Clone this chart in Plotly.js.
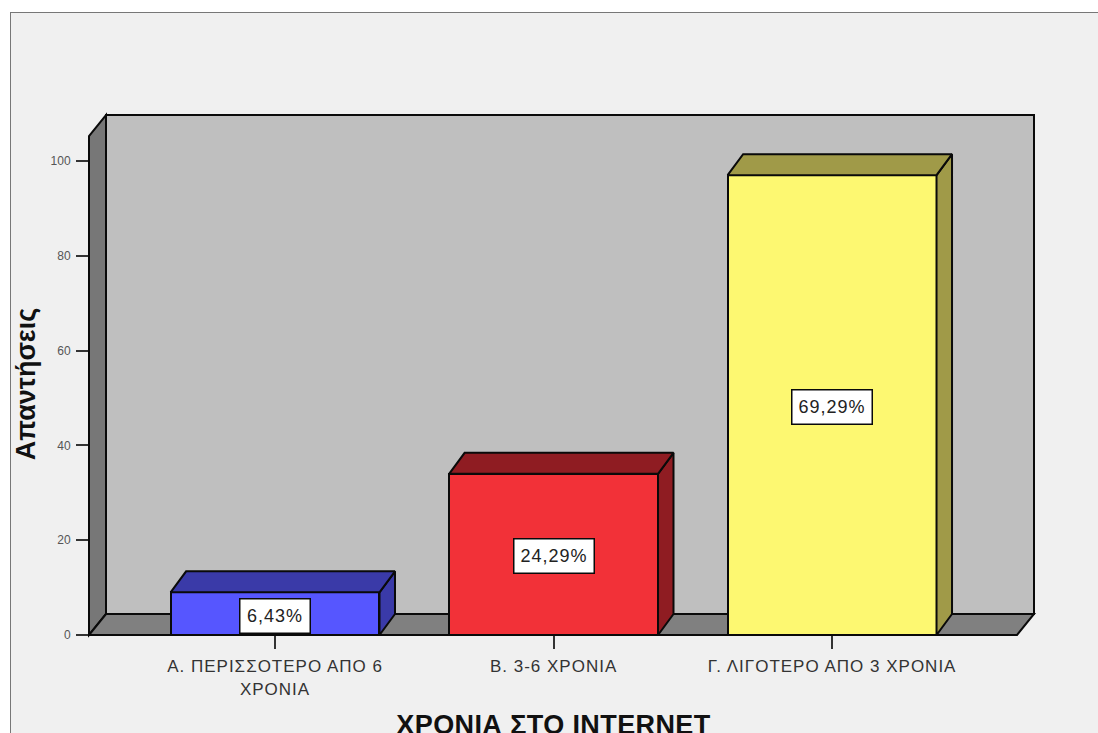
<!DOCTYPE html>
<html>
<head>
<meta charset="utf-8">
<script src="https://cdn.plot.ly/plotly-3.0.1.min.js"></script>
<style>
html,body{margin:0;padding:0;background:#fff;width:1098px;height:733px;overflow:hidden}
#frame{position:absolute;left:10px;top:12px;width:1087px;height:720px;border-left:1px solid #777;border-top:1px solid #777;background:#f0f0f0}
#chart{width:1087px;height:720px}
.xtick text{letter-spacing:1px}
.annotation-text{letter-spacing:1px}
.xtitle{letter-spacing:0.4px}
.ytitle{translate:0 9px}
</style>
</head>
<body>
<div id="frame"><div id="chart"></div></div>
<script>
var categories = ['Α. ΠΕΡΙΣΣΟΤΕΡΟ ΑΠΟ 6<br>ΧΡΟΝΙΑ', 'Β. 3-6 ΧΡΟΝΙΑ', 'Γ. ΛΙΓΟΤΕΡΟ ΑΠΟ 3 ΧΡΟΝΙΑ'];
var responses = [9, 34, 97];
var percentLabels = ['6,43%', '24,29%', '69,29%'];
var frontColors = ['#5656ff', '#f23138', '#fdf871'];
var sideColors = ['#3a3aa8', '#8f1c22', '#a09a48'];
var yTicks = [0, 20, 40, 60, 80, 100];
var xAxisTitle = 'ΧΡΟΝΙΑ ΣΤΟ INTERNET';

var W = 1087, H = 720;
var margin = {l: 78, r: 64, t: 102, b: 98, pad: 0};
var plotW = W - margin.l - margin.r, plotH = H - margin.t - margin.b;
var depthPxX = 17, depthPxY = 21, barDepthPxX = 15.5;
var yMax = 109.7;
var xMin = -0.668, xMax = 2.725;
var barW = 0.75;
var dX = barDepthPxX / plotW * (xMax - xMin);
var dY = depthPxY / plotH * yMax;
var fx = depthPxX / plotW, fy = depthPxY / plotH;
var BLACK = '#0a0a0a';
var FONT = 'Liberation Sans, Arial, sans-serif';

var traces = [{
  type: 'bar',
  x: responses.map(function (_, i) { return i; }),
  y: responses,
  width: barW,
  cliponaxis: false,
  hoverinfo: 'skip',
  marker: {color: frontColors, line: {color: BLACK, width: 2}}
}];

responses.forEach(function (v, i) {
  var l = i - barW / 2, r = i + barW / 2;
  // side face
  traces.push({
    type: 'scatter', mode: 'lines', fill: 'toself', fillcolor: sideColors[i], hoverinfo: 'skip',
    x: [r, r + dX, r + dX, r, r], y: [0, dY, v + dY, v, 0],
    line: {color: BLACK, width: 2}
  });
  // top face
  traces.push({
    type: 'scatter', mode: 'lines', fill: 'toself', fillcolor: sideColors[i], hoverinfo: 'skip',
    x: [l, l + dX, r + dX, r, l], y: [v, v + dY, v + dY, v, v],
    line: {color: BLACK, width: 2}
  });
});

function poly(pts) {
  return 'M' + pts.map(function (p) { return p[0] + ',' + p[1]; }).join('L') + 'Z';
}
function wall(pts, color, layer) {
  return {type: 'path', xref: 'paper', yref: 'paper', path: poly(pts), fillcolor: color,
          layer: layer || 'below', line: {color: BLACK, width: 2}};
}

var shapes = [
  wall([[fx, fy], [1, fy], [1, 1], [fx, 1]], '#bfbfbf'),
  wall([[0, 0], [fx, fy], [fx, 1], [0, 1 - fy]], '#777777'),
  wall([[0, 0], [1 - fx, 0], [1, fy], [fx, fy]], '#808080')
];

var annotations = responses.map(function (v, i) {
  return {
    x: i, y: v / 2, xref: 'x', yref: 'y', yshift: -2,
    text: percentLabels[i], showarrow: false,
    font: {family: FONT, size: 18, color: '#222'},
    bgcolor: '#ffffff', bordercolor: BLACK, borderwidth: 1.5,
    width: 10 * percentLabels[i].length + 17, height: 31, valign: 'middle', align: 'center'
  };
});

var layout = {
  width: W, height: H,
  margin: margin,
  paper_bgcolor: '#f0f0f0',
  plot_bgcolor: 'rgba(0,0,0,0)',
  showlegend: false,
  bargap: 0,
  shapes: shapes,
  annotations: annotations,
  xaxis: {
    range: [xMin, xMax],
    tickmode: 'array',
    tickvals: categories.map(function (_, i) { return i; }),
    ticktext: categories,
    ticks: 'outside', ticklen: 13, tickwidth: 2, tickcolor: '#333',
    ticklabelstandoff: 3,
    tickangle: 0,
    showgrid: false, zeroline: false, showline: false,
    tickfont: {family: FONT, size: 17, color: '#333'},
    title: {text: xAxisTitle, standoff: 22,
            font: {family: FONT, size: 27, color: '#111', weight: 'bold'}}
  },
  yaxis: {
    range: [0, yMax],
    tickmode: 'array',
    tickvals: yTicks,
    ticktext: yTicks.map(String),
    ticks: 'outside', ticklen: 12, tickwidth: 2, tickcolor: '#333',
    ticklabelstandoff: 3,
    showgrid: false, zeroline: false, showline: false,
    tickfont: {family: FONT, size: 12, color: '#555'},
    title: {text: 'Απαντήσεις', standoff: 14,
            font: {family: FONT, size: 27, color: '#111', weight: 'bold'}}
  }
};

Plotly.newPlot('chart', traces, layout, {displayModeBar: false, responsive: false}).then(function () {
  // The reference title sits left of the plot centre, right at the page bottom.
  var t = document.querySelector('.xtitle');
  if (t) {
    t.setAttribute('x', String(Number(t.getAttribute('x')) - 8));
    t.setAttribute('y', String(Number(t.getAttribute('y')) + 7));
    t.removeAttribute('transform');
  }
});
</script>
</body>
</html>
